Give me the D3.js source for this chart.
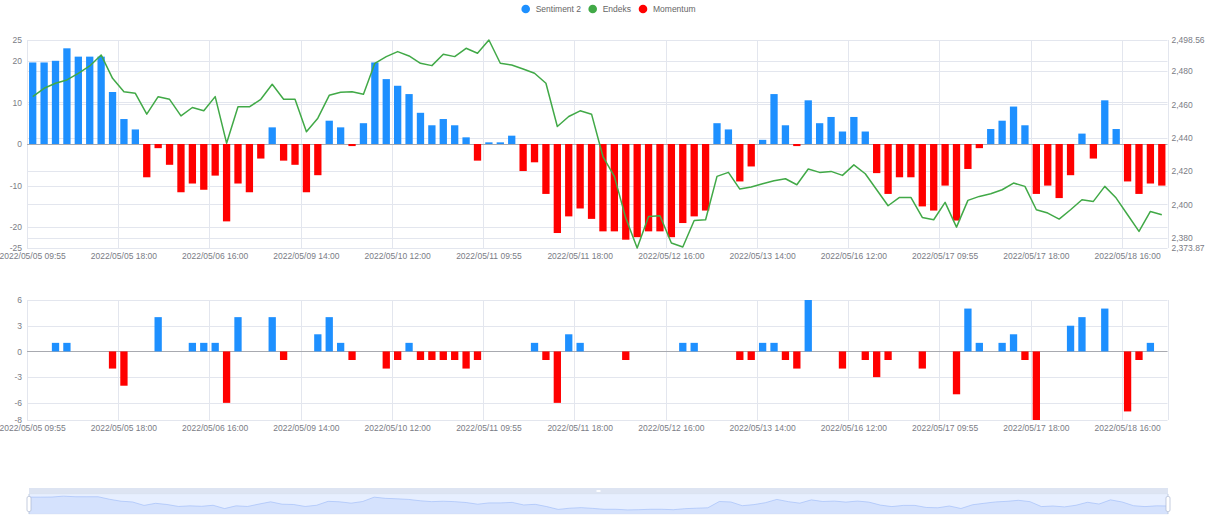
<!DOCTYPE html>
<html><head><meta charset="utf-8">
<script src="https://cdn.jsdelivr.net/npm/d3@7"></script>
<style>
body{margin:0;background:#fff}
svg{display:block}
text{font-family:"Liberation Sans",Arial,sans-serif}
</style>
</head><body>
<svg id="chart" width="1218" height="516"></svg>
<script>
// ---------- data ----------
const days = ["2022/05/05","2022/05/06","2022/05/09","2022/05/10","2022/05/11","2022/05/12","2022/05/13","2022/05/16","2022/05/17","2022/05/18"];
const sessionTimes = ["09:55","11:00","12:00","13:00","14:00","15:00","16:00","17:00","18:00","18:10"];
const categories = days.flatMap(d => sessionTimes.map(t => d + " " + t));

const sentiment2 = [19.6,19.6,20.0,23.0,21.0,21.0,21.0,12.5,6.0,3.5,
  -8.0,-1.0,-5.0,-11.6,-9.5,-11.0,-7.6,-18.6,-9.5,-11.6,
  -3.5,4.0,-4.0,-5.0,-11.6,-7.5,5.6,4.0,-0.5,5.0,
  19.6,15.6,14.0,12.0,7.5,4.5,6.0,4.5,1.6,-4.0,
  0.4,0.4,2.0,-6.5,-4.4,-12.0,-21.4,-17.4,-15.5,-18.0,
  -21.0,-21.0,-23.0,-22.4,-21.0,-21.0,-22.4,-19.0,-17.4,-16.0,
  5.0,3.5,-9.0,-5.4,1.0,12.0,4.5,-0.5,10.5,5.0,
  6.5,3.0,6.5,3.0,-7.0,-12.0,-8.0,-8.0,-15.0,-16.0,
  -10.0,-18.4,-6.0,-1.0,3.6,5.6,9.0,4.5,-12.0,-10.0,
  -13.0,-7.5,2.5,-3.5,10.5,3.6,-9.0,-12.0,-9.5,-10.0];

const endeks = [2464.6,2469.6,2472.6,2474.6,2478.6,2483.0,2489.6,2475.6,2467.6,2466.6,
  2454.1,2464.6,2463.0,2453.1,2458.1,2456.1,2464.6,2436.7,2458.5,2458.5,
  2463.0,2472.0,2463.0,2463.0,2443.5,2451.7,2465.4,2467.2,2467.6,2466.0,
  2484.6,2488.6,2491.6,2489.0,2484.6,2483.2,2490.0,2488.6,2493.6,2490.6,
  2498.56,2484.6,2483.6,2481.2,2478.6,2472.6,2446.7,2452.7,2456.1,2454.1,
  2428.7,2416.8,2391.8,2373.87,2392.8,2393.2,2376.9,2374.5,2390.4,2390.8,
  2416.8,2419.2,2409.2,2410.4,2412.4,2414.2,2415.4,2411.8,2421.2,2419.2,
  2419.8,2417.4,2423.7,2418.4,2408.8,2399.2,2404.2,2404.2,2392.2,2390.8,
  2401.2,2386.4,2402.4,2404.8,2406.4,2408.8,2412.8,2410.8,2396.8,2394.8,
  2391.2,2396.8,2402.8,2401.8,2410.8,2403.8,2393.8,2383.8,2395.8,2393.8];

const momentum = [0,0,1,1,0,0,0,-2,-4,0,
  0,4,0,0,1,1,1,-6,4,0,
  0,4,-1,0,0,2,4,1,-1,0,
  0,-2,-1,1,-1,-1,-1,-1,-2,-1,
  0,0,0,0,1,-1,-6,2,1,0,
  0,0,-1,0,0,0,0,1,1,0,
  0,0,-1,-1,1,1,-1,-2,6,0,
  0,-2,0,-1,-3,-1,0,0,-2,0,
  0,-5,5,1,0,1,2,-1,-8,0,
  0,3,4,0,5,0,-7,-1,1,0];

const leftTicks = [-25,-20,-10,0,10,20,25];
const rightTicks = [2373.87,2380,2400,2420,2440,2460,2480,2498.56];
const lowerTicks = [-8,-6,-3,0,3,6];
const labelEvery = 8;
const legendItems = ["Sentiment 2","Endeks","Momentum"];

// ---------- styles ----------
const BLUE = "#1e90ff", RED = "#ff0000", GREEN = "#41a947";
const GRID = "#e3e6ee", AXIS = "#a8aab0", LABEL = "#7a7c85";
const FS = "8.5px";

const svg = d3.select("#chart");
svg.append("rect").attr("width",1218).attr("height",516).attr("fill","#fff");

const L = 27, R = 1167.5;
const x = d3.scaleBand().domain(categories).range([L,R]).paddingInner(0.36).paddingOuter(0.18);
const step = x.step();
const cx = c => x(c) + x.bandwidth()/2;
const slotStart = c => x(c) - step*0.18;
const tickCats = categories.filter((d,i) => i % labelEvery === 0);

const yL = d3.scaleLinear().domain([-25,25]).range([248,40]);
const yR = d3.scaleLinear().domain(d3.extent(endeks)).range([248,40]);
const yB = d3.scaleLinear().domain([-8,6]).range([420,300]);
const intFmt = d => String(d);

function grid(g, yScale, ticks){
  g.selectAll(null).data(ticks).enter().append("line")
    .attr("x1",L).attr("x2",R)
    .attr("y1",d=>Math.round(yScale(d))+0.5).attr("y2",d=>Math.round(yScale(d))+0.5)
    .attr("stroke",GRID).attr("stroke-width",1);
}
function vgrid(g, yTop, yBot){
  const xs = tickCats.map(slotStart).concat([R]);
  g.selectAll(null).data(xs).enter().append("line")
    .attr("x1",d=>Math.round(d)+0.5).attr("x2",d=>Math.round(d)+0.5)
    .attr("y1",yTop).attr("y2",yBot)
    .attr("stroke",GRID).attr("stroke-width",1);
}

// ---------- top chart ----------
const gTop = svg.append("g");
vgrid(gTop, 40, 248);
grid(gTop, yL, leftTicks);
grid(gTop, yR, rightTicks.slice(1,-1));
gTop.append("line").attr("x1",L).attr("x2",R)
  .attr("y1",Math.round(yL(0))+0.5).attr("y2",Math.round(yL(0))+0.5)
  .attr("stroke",AXIS).attr("stroke-width",1);

gTop.selectAll("rect.s").data(sentiment2).enter().append("rect")
  .attr("class","s")
  .attr("x",(d,i)=>x(categories[i]))
  .attr("width",x.bandwidth())
  .attr("y",d=>Math.min(yL(d),yL(0)))
  .attr("height",d=>Math.abs(yL(d)-yL(0)))
  .attr("fill",d=>d>=0?BLUE:RED);

const line = d3.line().x((d,i)=>cx(categories[i])).y(d=>yR(d));
gTop.append("path").datum(endeks).attr("d",line)
  .attr("fill","none").attr("stroke",GREEN).attr("stroke-width",1.5).attr("stroke-linejoin","round");

function styleAxis(g){
  g.select(".domain").remove();
  g.selectAll("text").attr("fill",LABEL).style("font-size",FS);
}
gTop.append("g").attr("transform","translate(0,248)")
  .call(d3.axisBottom(x).tickValues(tickCats).tickSize(0).tickPadding(5)).call(styleAxis);
gTop.append("g").attr("transform",`translate(${L},0)`)
  .call(d3.axisLeft(yL).tickValues(leftTicks).tickSize(0).tickPadding(5).tickFormat(intFmt)).call(styleAxis);
gTop.append("g").attr("transform",`translate(${R},0)`)
  .call(d3.axisRight(yR).tickValues(rightTicks).tickSize(0).tickPadding(4)
    .tickFormat(v => Number.isInteger(v) ? d3.format(",")(v) : d3.format(",.2f")(v))).call(styleAxis);

// ---------- bottom chart ----------
const gLow = svg.append("g");
vgrid(gLow, 300, 420);
grid(gLow, yB, lowerTicks);
gLow.append("line").attr("x1",L).attr("x2",R)
  .attr("y1",Math.round(yB(0))+0.5).attr("y2",Math.round(yB(0))+0.5)
  .attr("stroke",AXIS).attr("stroke-width",1);
gLow.selectAll("rect.m").data(momentum).enter().append("rect")
  .attr("class","m")
  .attr("x",(d,i)=>x(categories[i]))
  .attr("width",x.bandwidth())
  .attr("y",d=>Math.min(yB(d),yB(0)))
  .attr("height",d=>Math.abs(yB(d)-yB(0)))
  .attr("fill",d=>d>=0?BLUE:RED);
gLow.append("g").attr("transform","translate(0,420)")
  .call(d3.axisBottom(x).tickValues(tickCats).tickSize(0).tickPadding(5)).call(styleAxis);
gLow.append("g").attr("transform",`translate(${L},0)`)
  .call(d3.axisLeft(yB).tickValues(lowerTicks).tickSize(0).tickPadding(5).tickFormat(intFmt)).call(styleAxis);

// ---------- legend ----------
const legendColors = [BLUE, GREEN, RED];
const legendX = [525.7, 592.7, 643];
const gLeg = svg.append("g");
legendItems.forEach((name,i)=>{
  gLeg.append("circle").attr("cx",legendX[i]).attr("cy",9).attr("r",4.3).attr("fill",legendColors[i]);
  gLeg.append("text").attr("x",legendX[i]+10).attr("y",9).attr("dy","0.35em")
    .attr("fill","#666").style("font-size",FS).text(name);
});

// ---------- data zoom slider ----------
const dz = {x0:29, x1:1168, top:488, body:494, bottom:514};
const gz = svg.append("g");
gz.append("rect").attr("x",dz.x0).attr("y",dz.body).attr("width",dz.x1-dz.x0).attr("height",dz.bottom-dz.body)
  .attr("fill","rgb(231,239,255)").attr("stroke","#dfe5f1").attr("stroke-width",0.5);
const xsz = d3.scaleLinear().domain([0,sentiment2.length-1]).range([dz.x0,dz.x1]);
const ext = d3.extent(sentiment2), pad = (ext[1]-ext[0])*0.3;
const ysz = d3.scaleLinear().domain([ext[0]-pad, ext[1]+pad]).range([dz.bottom, 492]);
gz.append("path").datum(sentiment2)
  .attr("d", d3.area().x((d,i)=>xsz(i)).y0(dz.bottom).y1(d=>ysz(d)))
  .attr("fill","#8fb0f7").attr("fill-opacity",0.2);
gz.append("path").datum(sentiment2)
  .attr("d", d3.line().x((d,i)=>xsz(i)).y(d=>ysz(d)))
  .attr("fill","none").attr("stroke","#8fb0f7").attr("stroke-width",0.5);
gz.append("rect").attr("x",dz.x0).attr("y",dz.top).attr("width",dz.x1-dz.x0).attr("height",dz.body-dz.top)
  .attr("fill","#D2DBEE").attr("fill-opacity",0.75);
gz.append("rect").attr("x",(dz.x0+dz.x1)/2-2).attr("y",dz.top+2).attr("width",4).attr("height",2)
  .attr("fill","#fff").attr("fill-opacity",0.9);
[dz.x0, dz.x1].forEach(hx=>{
  gz.append("line").attr("x1",hx).attr("x2",hx).attr("y1",dz.body).attr("y2",dz.bottom)
    .attr("stroke","#acb8d1").attr("stroke-width",0.6);
  gz.append("rect").attr("x",hx-2).attr("y",dz.body+2.5).attr("width",4).attr("height",15).attr("rx",1.5)
    .attr("fill","#fff").attr("stroke","#acb8d1").attr("stroke-width",0.7);
});
</script>
</body></html>
